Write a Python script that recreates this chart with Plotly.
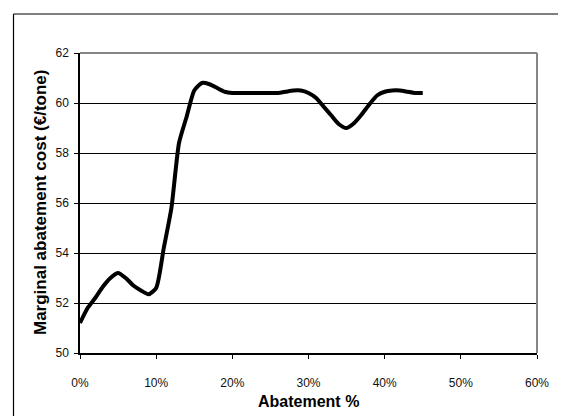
import plotly.graph_objects as go

abatement = [0, 1, 2, 3, 4, 5, 6, 7, 8, 9, 10, 11, 12, 13, 14, 15, 16, 17, 18, 19, 20,
             22, 24, 26, 27, 28, 29, 30, 31, 32, 33, 34, 35, 36, 37, 38, 39, 40, 41,
             42, 43, 44, 45]
cost = [51.2, 51.8, 52.2, 52.65, 53.0, 53.2, 53.0, 52.7, 52.5, 52.35, 52.6, 54.2, 55.8,
        58.4, 59.45, 60.5, 60.8, 60.75, 60.6, 60.45, 60.4,
        60.4, 60.4, 60.4, 60.45, 60.5, 60.5, 60.4, 60.2, 59.85, 59.5, 59.15, 59.0, 59.2,
        59.55, 59.95, 60.3, 60.45, 60.5, 60.5, 60.45, 60.4, 60.4]

x_ticks = [0, 10, 20, 30, 40, 50, 60]
x_tick_labels = ["0%", "10%", "20%", "30%", "40%", "50%", "60%"]
y_ticks = [50, 52, 54, 56, 58, 60, 62]

FONT = "Liberation Sans, Arial, sans-serif"

fig = go.Figure()
fig.add_trace(go.Scatter(
    x=abatement, y=cost, mode="lines",
    line=dict(color="black", width=4, shape="spline", smoothing=0.6),
    showlegend=False, hoverinfo="skip",
))

# page has an 8px body margin; figure starts at page (8, 8)
OFF = 8
W, H = 566 - OFF, 416 - OFF
# desired plot area in page pixels: x 80..537, y 53.5..353
L, R, T, B = 80 - OFF, 566 - 537, 53 - OFF, 416 - 353
pw, ph = W - L - R, H - T - B

def px_to_paper_x(px):
    return (px - OFF - L) / pw

def px_to_paper_y(py):
    return (H - B - (py - OFF)) / ph

fig.update_layout(
    width=W, height=H,
    margin=dict(l=L, r=R, t=T, b=B, pad=0),
    paper_bgcolor="white", plot_bgcolor="white",
    font=dict(family=FONT, size=12, color="black"),
    xaxis=dict(
        range=[0, 60], tickvals=x_ticks, ticktext=x_tick_labels,
        showgrid=False, zeroline=False,
        showline=True, linecolor="black", linewidth=1.5,
        ticks="outside", ticklen=4, tickcolor="black", tickwidth=1,
        ticklabelstandoff=14, tickfont=dict(size=12, color="#111111"),
    ),
    yaxis=dict(
        range=[50, 62], tickvals=y_ticks,
        showgrid=True, gridcolor="black", gridwidth=1,
        zeroline=False,
        showline=True, linecolor="black", linewidth=1.5,
        ticks="outside", ticklen=4, tickcolor="black", tickwidth=1,
        ticklabelstandoff=3, tickfont=dict(size=12, color="#111111"),
    ),
    shapes=[
        # plot area top and right border (gray)
        dict(type="line", xref="paper", yref="paper", x0=0, x1=1, y0=1, y1=1,
             line=dict(color="#858585", width=2), layer="above"),
        dict(type="line", xref="paper", yref="paper", x0=1, x1=1, y0=0, y1=1,
             line=dict(color="#858585", width=2), layer="above"),
        # outer chart frame (cropped at right and bottom)
        dict(type="line", xref="paper", yref="paper",
             x0=px_to_paper_x(13.5), x1=px_to_paper_x(600),
             y0=px_to_paper_y(14), y1=px_to_paper_y(14),
             line=dict(color="black", width=1.2)),
        dict(type="line", xref="paper", yref="paper",
             x0=px_to_paper_x(13.5), x1=px_to_paper_x(13.5),
             y0=px_to_paper_y(14), y1=px_to_paper_y(450),
             line=dict(color="black", width=1.2)),
    ],
    annotations=[
        dict(text="<b>Abatement %</b>", xref="paper", yref="paper",
             x=0.5, y=px_to_paper_y(401), xanchor="center", yanchor="middle",
             showarrow=False, font=dict(size=16, family=FONT, color="black")),
        dict(text="<b>Marginal abatement cost (€/tone)</b>", xref="paper", yref="paper",
             x=px_to_paper_x(40), y=0.5, xanchor="center", yanchor="middle",
             textangle=-90, showarrow=False,
             font=dict(size=17, family=FONT, color="black")),
    ],
)

fig.write_html("out.html")
